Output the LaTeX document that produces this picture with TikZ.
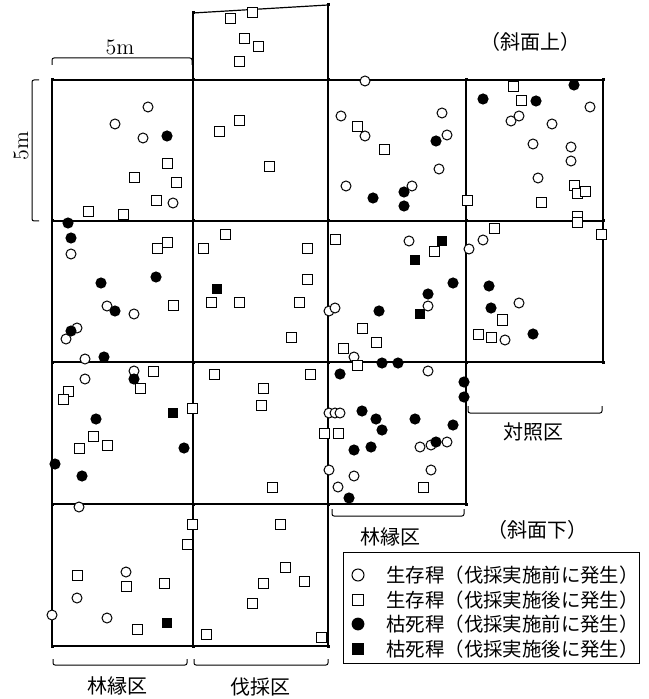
\documentclass[tikz,border=0pt]{standalone}
\usepackage{fontspec}
\newfontfamily\jp{Noto Sans CJK JP}
\usetikzlibrary{positioning}

\tikzset{
  grid/.style={line width=0.6pt},
  brace/.style={line width=0.5pt, rounded corners=1pt},
  live/.style={circle, draw, fill=white, line width=0.5pt, inner sep=0pt, minimum size=5pt},
  newlive/.style={rectangle, draw, fill=white, line width=0.5pt, inner sep=0pt, minimum size=5pt},
  dead/.style={circle, fill=black, inner sep=0pt, minimum size=5.6pt},
  newdead/.style={rectangle, fill=black, inner sep=0pt, minimum size=5.4pt},
  lbl/.style={font=\jp\fontsize{10}{12}\selectfont, inner sep=0pt},
  keytext/.style={font=\jp\fontsize{9.7}{11}\selectfont, inner sep=0pt, anchor=west}
}

\begin{document}
\begin{tikzpicture}[x=0.5pt, y=-0.5pt]

		\useasboundingbox (0,0) rectangle (648,699);

		% Grid corners
		\coordinate (t1) at (193,13);
		\coordinate (t2) at (328,5);
		\coordinate (a0) at (52,80);   \coordinate (a4) at (603,80);
		\coordinate (b0) at (52,221);  \coordinate (b4) at (603,221);
		\coordinate (c0) at (52,362);  \coordinate (c4) at (603,362);
		\coordinate (d0) at (52,504);  \coordinate (d3) at (466,504);
		\coordinate (e0) at (52,646);  \coordinate (e2) at (328,646);

		% Plot outlines
		\draw[grid] (a0) -- (a4);
		\draw[grid] (b0) -- (b4);
		\draw[grid] (c0) -- (c4);
		\draw[grid] (d0) -- (d3);
		\draw[grid] (e0) -- (e2);
		\draw[grid] (a0) -- (e0);
		\draw[grid] (t1) -- (193,646);
		\draw[grid] (t2) -- (e2);
		\draw[grid] (466,80) -- (d3);
		\draw[grid] (a4) -- (c4);
		\draw[grid] (t1) -- (t2);

		% Small corner marks
		\foreach \p in {(193,13),(328,5),(52,80),(193,80),(328,80),(466,80),(603,80),
			(52,221),(193,221),(328,221),(466,221),(603,221),
			(52,362),(193,362),(328,362),(466,362),(603,362),
			(52,504),(193,504),(328,504),(466,504),(52,646),(193,646),(328,646)}
			\fill \p ++(-1.5,-1.5) rectangle ++(3,3);

		% Scale braces
		\draw[brace] (52,65) -- (52,58) -- (192,58) -- (192,65);
		\node[font=\fontsize{11}{12}\selectfont] (w5) at (120,47) {5m};
		\draw[brace] (39,80) -- (32,80) -- (32,221) -- (39,221);
		\node[font=\fontsize{11}{12}\selectfont, rotate=90] (h5) at (21,146) {5m};

		% Zone braces
		\draw[brace] (468,406) -- (468,413) -- (602,413) -- (602,406);
		\node[lbl] (ctrl) at (533,432) {対照区};
		\draw[brace] (332,509) -- (332,516) -- (464,516) -- (464,509);
		\node[lbl] (edge2) at (390,537) {林縁区};
		\draw[brace] (53,659) -- (53,665) -- (187,665) -- (187,659);
		\node[lbl] (edge1) at (117,686) {林縁区};
		\draw[brace] (194,659) -- (194,665) -- (328,665) -- (328,659);
		\node[lbl] (cut) at (260,687) {伐採区};

		% Slope labels
		\node[lbl] (up) at (530,42) {（斜面上）};
		\node[lbl] (down) at (537,530) {（斜面下）};

		% Live culms, before cutting
		\foreach \p [count=\i] in {(148,107),(115,124),(143,138),(173,203),
			(365,81),(341,116),(365,136),(442,113),(447,135),(439,169),(346,186),(412,186),
			(511,121),(519,116),(552,124),(590,107),(533,144),(571,147),(571,161),(538,178),
			(71,254),(107,306),(134,314),(77,328),(66,339),(85,359),
			(409,241),(428,306),(329,311),(335,308),(354,357),
			(469,249),(483,240),(519,303),(505,340),
			(85,379),(134,371),
			(428,371),(329,413),(335,413),(340,413),(420,447),(431,445),(447,442),
			(329,470),(354,476),(431,470),(338,487),
			(79,507),(126,572),(77,598),(52,615),(107,618)}
			\node[live] (o\i) at \p {};

		% Live culms, after cutting
		\foreach \p [count=\i] in {(230,19),(252,13),(244,39),(258,47),(239,62),
			(167,164),(134,178),(176,183),(156,201),(88,212),(123,215),
			(239,121),(219,132),(269,167),
			(357,127),(384,150),(467,201),
			(513,87),(521,101),(574,186),(577,194),(585,192),(541,203),(577,217),(577,223),
			(157,249),(167,243),(173,306),
			(225,235),(203,249),(307,249),(307,280),(211,303),(239,303),(299,303),(291,337),
			(335,240),(434,252),(362,328),(376,342),(343,348),(357,365),
			(494,229),(601,235),(502,320),(478,334),(491,337),
			(153,371),(68,391),(63,399),(140,388),(93,436),(79,448),(107,445),(192,408),
			(214,374),(310,374),(263,388),(261,405),(272,487),(324,433),
			(338,433),(423,487),
			(77,575),(126,586),(164,583),(137,629),(187,544),(192,524),
			(280,524),(285,567),(263,583),(304,581),(252,603),(206,634),(321,637)}
			\node[newlive] (s\i) at \p {};

		% Dead culms, before cutting
		\foreach \p [count=\i] in {(167,136),
			(436,141),(373,198),(404,192),(404,206),
			(483,99),(536,101),(574,85),
			(68,223),(71,238),(101,283),(156,277),(115,311),(71,331),(104,357),
			(453,283),(428,294),(379,311),(382,363),(398,363),
			(489,286),(491,308),(533,334),
			(134,379),(96,419),(184,448),(55,464),(82,476),
			(340,374),(464,382),(464,397),(362,411),(376,419),(382,430),(415,419),
			(453,425),(354,450),(371,447),(436,442),(349,498)}
			\node[dead] (f\i) at \p {};

		% Dead culms, after cutting
		\foreach \p [count=\i] in {(217,289),(442,241),(415,260),(420,314),(173,413),(167,623)}
			\node[newdead] (q\i) at \p {};

		% Legend
		\node[draw, line width=0.5pt, minimum width=148pt, minimum height=55.5pt, inner sep=0pt] (key) at (491,607.5) {};
		\node[live, minimum size=6pt] (k1) at (358,575) {};
		\node[newlive, minimum size=5.6pt] (k2) at (358,600) {};
		\node[dead, minimum size=6.4pt] (k3) at (358,624) {};
		\node[newdead, minimum size=6pt] (k4) at (358,649) {};
		\node[keytext] (t1) at (386,575) {生存稈（伐採実施前に発生）};
		\node[keytext] (t2) at (386,600) {生存稈（伐採実施後に発生）};
		\node[keytext] (t3) at (386,624) {枯死稈（伐採実施前に発生）};
		\node[keytext] (t4) at (386,649) {枯死稈（伐採実施後に発生）};

	\end{tikzpicture}
\end{document}
